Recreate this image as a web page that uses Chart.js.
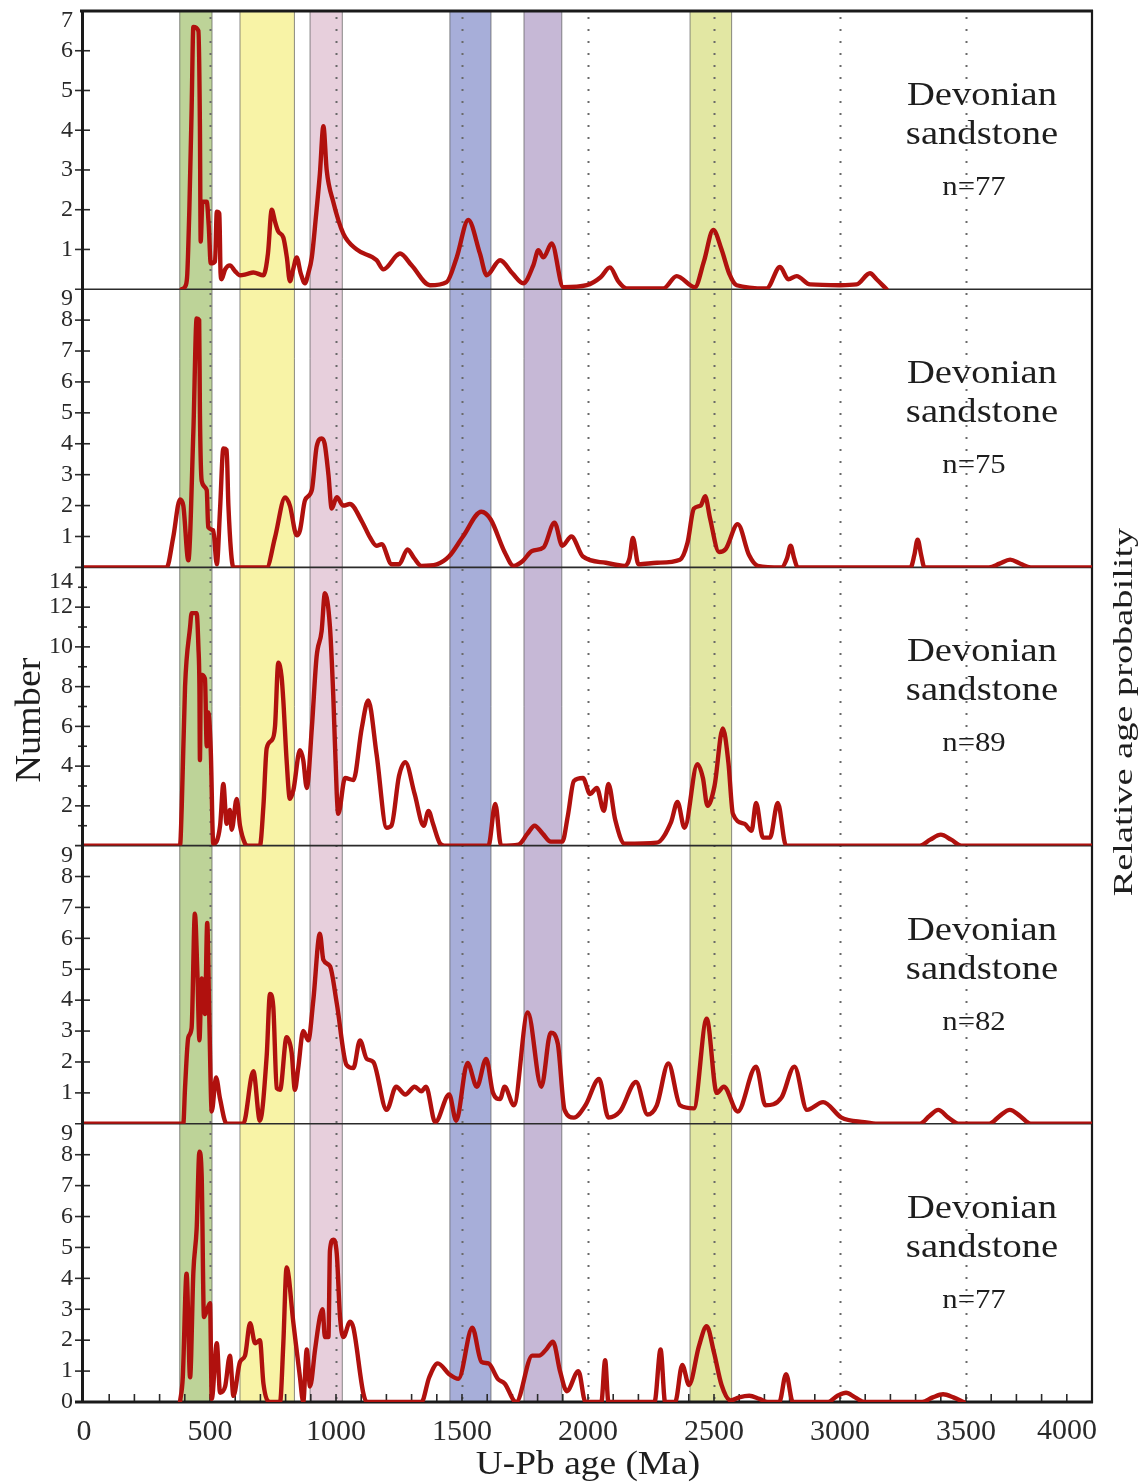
<!DOCTYPE html>
<html><head><meta charset="utf-8">
<script src="https://cdn.jsdelivr.net/npm/chart.js@4.4.0/dist/chart.umd.min.js"></script>
<style>html,body{margin:0;padding:0;background:#fff;}canvas{display:block;}</style>
</head><body>
<canvas id="c" width="1143" height="1483"></canvas>
<script>
// ---- data ----
const xTickValues = [0, 500, 1000, 1500, 2000, 2500, 3000, 3500, 4000];
const panelMax = [7, 9, 14, 9, 9];
const panelStep = [1, 1, 2, 1, 1];
const sampleNames = ['Devonian', 'sandstone'];
const sampleN = [77, 75, 89, 82, 77];
const bandRanges = [[380, 508], [619, 835], [897, 1025], [1452, 1615], [1746, 1896], [2405, 2570]];
const bandColors = ['#bdd398', '#f8f3a6', '#e7cfdc', '#a7aed9', '#c6b8d6', '#e2e7a3'];
const dottedAges = [500, 1000, 1500, 2000, 2500, 3000, 3500];

const panel1 = [[388,0],[404,0.1],[410,0.4],[418,2.0],[427,4.5],[434,6.6],[454,6.5],[460,4.1],[463,1.2],[470,2.2],[487,2.2],[495,1.6],[503,0.65],[520,0.7],[527,1.95],[537,1.9],[542,0.4],[546,0.25],[560,0.5],[579,0.6],[600,0.45],[619,0.35],[645,0.38],[672,0.42],[712,0.35],[730,0.9],[745,2.0],[758,1.7],[771,1.45],[791,1.3],[805,0.8],[817,0.2],[830,0.5],[844,0.8],[860,0.4],[877,0.15],[890,0.4],[904,0.8],[920,1.8],[936,2.9],[950,4.1],[963,3.0],[989,2.2],[1029,1.4],[1082,1.0],[1161,0.73],[1188,0.5],[1241,0.85],[1254,0.9],[1300,0.6],[1373,0.1],[1439,0.18],[1479,0.8],[1525,1.74],[1571,0.9],[1598,0.35],[1651,0.73],[1700,0.4],[1743,0.15],[1783,0.6],[1803,0.98],[1823,0.8],[1856,1.15],[1902,0.05],[1995,0.1],[2050,0.3],[2087,0.55],[2120,0.2],[2153,0.02],[2299,0.02],[2352,0.33],[2424,0.05],[2460,0.7],[2497,1.49],[2530,1.0],[2560,0.4],[2590,0.1],[2709,0.02],[2762,0.56],[2795,0.25],[2828,0.33],[2881,0.12],[3000,0.1],[3066,0.12],[3119,0.4],[3145,0.25],[3185,0]];

const panel2 = [[0,0],[328,0],[354,0.97],[381,2.2],[394,2.0],[414,0.23],[434,4.4],[447,8.05],[457,8.0],[460,5.0],[467,2.8],[487,2.5],[493,1.3],[513,1.2],[527,0.1],[540,1.9],[553,3.85],[566,3.8],[573,2.0],[593,0],[725,0],[758,0.97],[798,2.26],[817,2.0],[844,1.04],[857,1.2],[877,2.17],[904,2.5],[923,3.9],[943,4.17],[955,4.0],[970,3.0],[983,1.9],[1003,2.27],[1029,2.0],[1055,2.05],[1102,1.5],[1135,0.97],[1161,0.7],[1181,0.75],[1221,0.1],[1250,0.1],[1284,0.58],[1310,0.3],[1339,0.05],[1400,0.1],[1448,0.35],[1504,1.0],[1577,1.8],[1614,1.55],[1669,0.5],[1705,0.05],[1740,0.2],[1778,0.53],[1824,0.65],[1867,1.45],[1898,0.7],[1934,1.0],[1980,0.35],[2071,0.15],[2145,0.05],[2165,0.3],[2178,0.95],[2200,0.1],[2274,0.15],[2365,0.25],[2395,0.8],[2420,1.9],[2447,2.0],[2465,2.3],[2484,1.6],[2520,0.5],[2547,0.6],[2594,1.4],[2639,0.4],[2674,0.05],[2768,0],[2790,0.3],[2804,0.7],[2818,0.3],[2832,0],[3280,0],[3295,0.4],[3308,0.9],[3322,0.4],[3335,0],[3591,0],[3633,0.12],[3675,0.25],[3716,0.12],[3757,0],[4000,0]];

const panel3 = [[0,0],[381,0],[388,2.0],[401,8.0],[421,11.0],[427,11.7],[447,11.7],[454,10.0],[458,8.0],[460,4.3],[464,8.6],[480,8.4],[487,5.0],[493,6.7],[503,4.8],[513,0.1],[540,1.0],[553,3.1],[566,1.1],[579,1.8],[586,0.8],[606,2.35],[619,1.0],[639,0.1],[650,0],[698,0],[712,2.0],[725,4.9],[745,5.3],[758,6.0],[771,9.2],[784,8.5],[791,7.3],[804,4.3],[817,2.35],[831,2.8],[857,4.8],[870,4.3],[884,2.9],[904,5.9],[923,9.5],[943,10.8],[956,12.7],[976,11.0],[989,7.6],[1003,2.6],[1009,1.6],[1036,3.4],[1069,3.3],[1102,5.9],[1128,7.3],[1161,4.6],[1201,0.9],[1220,1.0],[1250,3.5],[1275,4.2],[1312,2.6],[1348,1.0],[1367,1.75],[1385,1.1],[1413,0.1],[1430,0],[1605,0],[1632,2.1],[1655,0],[1724,0.05],[1760,0.6],[1788,1.0],[1820,0.6],[1852,0.2],[1898,0.2],[1920,1.5],[1944,3.25],[1980,3.4],[2008,2.6],[2035,2.9],[2063,1.75],[2081,3.1],[2108,1.3],[2145,0.1],[2273,0.15],[2330,1.2],[2355,2.2],[2383,0.9],[2434,4.1],[2456,3.4],[2474,2.0],[2502,3.0],[2535,5.9],[2557,4.2],[2575,1.6],[2621,1.1],[2649,0.75],[2667,2.15],[2694,0.4],[2722,0.4],[2753,2.15],[2786,0],[3317,0],[3358,0.3],[3400,0.55],[3441,0.3],[3482,0],[4000,0]];

const panel4 = [[0,0],[394,0],[401,1.17],[414,2.8],[427,3.1],[440,6.8],[450,4.85],[458,2.7],[467,4.7],[480,3.55],[489,6.5],[497,3.5],[507,0.4],[524,1.5],[540,0.8],[566,0],[632,0],[672,1.7],[698,0.1],[725,2.2],[738,4.2],[751,3.8],[765,1.15],[778,1.1],[804,2.8],[824,2.3],[837,1.1],[850,1.8],[870,3.0],[890,2.7],[910,4.0],[936,6.15],[950,5.3],[976,5.1],[1003,3.9],[1042,1.9],[1069,1.8],[1095,2.7],[1122,2.1],[1148,2.0],[1201,0.45],[1239,1.2],[1275,0.95],[1312,1.2],[1339,1.05],[1357,1.2],[1394,0.05],[1449,0.95],[1477,0.1],[1522,1.97],[1559,1.2],[1596,2.1],[1623,1.0],[1651,0.8],[1669,1.2],[1706,0.6],[1761,3.6],[1815,1.2],[1852,2.95],[1880,2.6],[1907,0.45],[1944,0.2],[1990,0.6],[2044,1.45],[2081,0.2],[2127,0.4],[2191,1.35],[2236,0.3],[2273,0.6],[2319,1.95],[2365,0.6],[2420,0.5],[2471,3.4],[2511,1.0],[2539,1.2],[2594,0.4],[2667,1.85],[2704,0.6],[2768,0.85],[2819,1.85],[2869,0.45],[2933,0.7],[3006,0.2],[3097,0.05],[3150,0],[3317,0],[3355,0.25],[3390,0.45],[3430,0.2],[3473,0],[3592,0],[3633,0.25],[3674,0.45],[3715,0.25],[3757,0],[4000,0]];

const panel5 = [[381,0],[392,0.8],[407,4.15],[421,0.8],[434,4.2],[447,5.6],[458,8.1],[467,7.3],[476,2.75],[487,2.95],[500,3.2],[507,0.1],[527,1.9],[540,0.3],[560,0.5],[579,1.5],[593,0.2],[619,1.3],[639,1.5],[659,2.55],[679,1.9],[698,2.0],[712,0.6],[738,0],[778,0],[791,1.9],[804,4.35],[831,2.55],[857,0.8],[870,0],[884,1.7],[897,0.5],[917,1.7],[936,2.75],[947,3.0],[956,2.1],[970,2.1],[976,4.9],[989,5.25],[1003,4.8],[1016,2.75],[1029,2.1],[1056,2.6],[1069,2.4],[1108,0.3],[1122,0],[1339,0],[1370,0.8],[1404,1.25],[1449,0.9],[1486,0.75],[1541,2.4],[1577,1.3],[1605,1.25],[1642,0.75],[1669,0.6],[1715,0],[1779,1.5],[1806,1.5],[1834,1.7],[1861,1.95],[1889,1.0],[1916,0.35],[1962,1.0],[1990,0],[2053,0],[2068,1.35],[2081,0],[2264,0],[2288,1.7],[2306,0],[2346,0],[2374,1.2],[2401,0.55],[2440,1.8],[2471,2.45],[2500,1.6],[2530,0.55],[2566,0.05],[2600,0.15],[2640,0.2],[2680,0.1],[2713,0],[2759,0],[2786,0.9],[2813,0],[2951,0],[2990,0.2],[3024,0.3],[3060,0.15],[3097,0],[3326,0],[3368,0.15],[3409,0.25],[3450,0.15],[3491,0]];

const panels = [panel1, panel2, panel3, panel4, panel5];
const axisIds = ['p1', 'p2', 'p3', 'p4', 'p5'];

// ---- chart ----
const SERIF = '"Liberation Serif", "Times New Roman", serif';
const LINE_RED = '#b0110e';

const datasets = panels.map((pts, i) => ({
  data: pts.map(p => ({ x: p[0], y: p[1] })),
  yAxisID: axisIds[i],
  borderColor: LINE_RED,
  borderWidth: 4.4,
  pointRadius: 0,
  cubicInterpolationMode: 'monotone',
  fill: false,
  borderJoinStyle: 'round',
  borderCapStyle: 'round'
}));

function zeroPad(s) { s.paddingTop = 0; s.paddingBottom = 0; s.paddingLeft = 0; s.paddingRight = 0; }

const scales = {
  x: {
    type: 'linear', position: 'bottom', min: 0, max: 4000,
    afterBuildTicks: s => { s.ticks = xTickValues.map(v => ({ value: v })); },
    ticks: {
      autoSkip: false, maxRotation: 0, padding: 12, color: '#2a2a2a',
      font: { family: SERIF, size: 30 },
      callback: v => (v === 4000 ? '' : String(v))
    },
    grid: { display: false, drawTicks: false },
    border: { display: false },
    afterFit: s => { s.height = 81; zeroPad(s); }
  }
};
// bottom panel defined first so that the last one (p1) is placed on top
for (let i = 4; i >= 0; i--) {
  const idx = i;
  scales[axisIds[idx]] = {
    type: 'linear', position: 'left', stack: 'panels', stackWeight: 1,
    min: 0, max: panelMax[idx],
    ticks: {
      stepSize: panelStep[idx], autoSkip: false, padding: 11, color: '#2a2a2a',
      font: { family: SERIF, size: 24 },
      callback: v => (v === panelMax[idx] || (v === 0 && idx !== 4)) ? '' : String(v)
    },
    grid: { display: false, drawTicks: false },
    border: { display: false },
    afterFit: s => { s.width = 84; zeroPad(s); }
  };
}

function hLine(ctx, x1, x2, y, w, c) {
  ctx.beginPath(); ctx.lineWidth = w; ctx.strokeStyle = c;
  ctx.moveTo(x1, y); ctx.lineTo(x2, y); ctx.stroke();
}
function vLine(ctx, x, y1, y2, w, c) {
  ctx.beginPath(); ctx.lineWidth = w; ctx.strokeStyle = c;
  ctx.moveTo(x, y1); ctx.lineTo(x, y2); ctx.stroke();
}
function stretchedText(ctx, text, cx, y, sx, font, align) {
  ctx.save();
  ctx.font = font; ctx.fillStyle = '#1e1e1e';
  ctx.textAlign = align || 'center'; ctx.textBaseline = 'alphabetic';
  ctx.translate(cx, y); ctx.scale(sx, 1);
  ctx.fillText(text, 0, 0);
  ctx.restore();
}

const backdrop = {
  id: 'backdrop',
  beforeDatasetsDraw(chart) {
    const { ctx, chartArea: a, scales: sc } = chart;
    const xs = sc.x;
    ctx.save();
    bandRanges.forEach((r, i) => {
      const x1 = xs.getPixelForValue(r[0]), x2 = xs.getPixelForValue(r[1]);
      ctx.fillStyle = bandColors[i];
      ctx.fillRect(x1, a.top, x2 - x1, a.bottom - a.top);
      vLine(ctx, x1, a.top, a.bottom, 1, 'rgba(90,90,90,0.7)');
      vLine(ctx, x2, a.top, a.bottom, 1, 'rgba(90,90,90,0.7)');
    });
    ctx.setLineDash([2, 10]);
    dottedAges.forEach(v => {
      const x = Math.round(xs.getPixelForValue(v)) + 0.5;
      vLine(ctx, x, a.top + 6, a.bottom, 2, '#6a6a6a');
    });
    ctx.setLineDash([]);
    for (let i = 1; i < 5; i++) {
      const y = sc[axisIds[i]].top;
      hLine(ctx, 75, a.right, y, 1.6, '#2b2b2b');
    }
    axisIds.forEach((id, i) => {
      const s = sc[id];
      for (let v = 1; v < panelMax[i]; v++) {
        const y = s.getPixelForValue(v);
        const major = (v % panelStep[i]) === 0;
        hLine(ctx, major ? 75 : 78, major ? 90 : 87, y, 1.6, '#2b2b2b');
      }
    });
    for (let v = 100; v < 4000; v += 100) {
      const x = xs.getPixelForValue(v);
      vLine(ctx, x, a.bottom, a.bottom - 8, 1.6, '#2b2b2b');
    }
    hLine(ctx, 80, a.right + 1, a.top, 3, '#1a1a1a');
    hLine(ctx, 75, a.right + 1, a.bottom, 3, '#1a1a1a');
    vLine(ctx, 82.5, a.top - 1, a.bottom + 1, 3, '#1a1a1a');
    vLine(ctx, a.right, a.top - 1, a.bottom + 1, 2.2, '#1a1a1a');
    ctx.restore();
  },
  afterDraw(chart) {
    const { ctx, chartArea: a, scales: sc } = chart;
    const xs = sc.x;
    ctx.save();
    ctx.font = '24px ' + SERIF; ctx.fillStyle = '#2a2a2a';
    ctx.textAlign = 'right'; ctx.textBaseline = 'middle';
    axisIds.forEach((id, i) => {
      const s = sc[id];
      ctx.fillText(String(panelMax[i]), 73, s.getPixelForValue(panelMax[i]) + (i === 2 ? 14 : 10));
    });
    ctx.font = '30px ' + SERIF; ctx.textAlign = 'center'; ctx.textBaseline = 'top';
    ctx.fillText(String(xTickValues[xTickValues.length - 1]), xs.getPixelForValue(4000) - 25, a.bottom + 14);
    ctx.restore();
    axisIds.forEach((id, i) => {
      const top = sc[id].top;
      stretchedText(ctx, sampleNames[0], 982, top + 94, 1.17, '33px ' + SERIF);
      stretchedText(ctx, sampleNames[1], 982, top + 133, 1.17, '33px ' + SERIF);
      stretchedText(ctx, 'n=' + sampleN[i], 974, top + 184, 1.14, '27px ' + SERIF);
    });
    stretchedText(ctx, 'U-Pb age (Ma)', (a.left + a.right) / 2, 1474, 1.1, '34px ' + SERIF);
    ctx.save();
    ctx.translate(40, 720); ctx.rotate(-Math.PI / 2);
    stretchedText(ctx, 'Number', 0, 0, 1.06, '36px ' + SERIF);
    ctx.restore();
    ctx.save();
    ctx.translate(1132, 712); ctx.rotate(-Math.PI / 2);
    stretchedText(ctx, 'Relative age probability', 0, 0, 1.37, '28px ' + SERIF);
    ctx.restore();
  }
};

new Chart(document.getElementById('c'), {
  type: 'line',
  data: { datasets },
  options: {
    responsive: false,
    animation: false,
    layout: { padding: { top: 11, right: 51, left: 0, bottom: 0 } },
    plugins: { legend: { display: false }, tooltip: { enabled: false }, title: { display: false } },
    scales
  },
  plugins: [backdrop]
});
</script>
</body></html>
